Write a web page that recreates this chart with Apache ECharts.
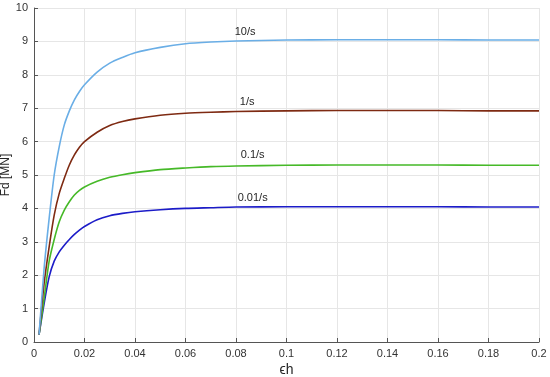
<!DOCTYPE html>
<html>
<head>
<meta charset="utf-8">
<script src="https://cdn.jsdelivr.net/npm/echarts@6/dist/echarts.min.js"></script>
<style>html,body{margin:0;padding:0;background:#fff;}#c{width:550px;height:377px;}</style>
</head>
<body>
<div id="c"></div>
<script>
var strain = [0.002, 0.004, 0.006, 0.008, 0.010, 0.012, 0.014, 0.016, 0.018, 0.020, 0.025, 0.030, 0.035, 0.040, 0.050, 0.060, 0.070, 0.080, 0.100, 0.120, 0.140, 0.160, 0.180, 0.200];
var force_001 = [0.22, 1.15, 1.95, 2.42, 2.70, 2.90, 3.07, 3.22, 3.35, 3.46, 3.66, 3.78, 3.85, 3.90, 3.96, 4.00, 4.02, 4.04, 4.05, 4.05, 4.05, 4.05, 4.04, 4.04];
var force_01  = [0.22, 1.30, 2.42, 3.07, 3.60, 3.95, 4.20, 4.40, 4.54, 4.64, 4.81, 4.93, 5.01, 5.07, 5.16, 5.21, 5.25, 5.27, 5.29, 5.30, 5.30, 5.30, 5.29, 5.29];
var force_1   = [0.22, 1.75, 2.85, 3.80, 4.45, 4.90, 5.30, 5.60, 5.83, 6.00, 6.28, 6.48, 6.60, 6.68, 6.79, 6.85, 6.88, 6.90, 6.92, 6.93, 6.93, 6.93, 6.92, 6.92];
var force_10  = [0.22, 2.20, 3.70, 5.00, 5.85, 6.50, 6.92, 7.25, 7.50, 7.70, 8.08, 8.35, 8.52, 8.66, 8.82, 8.93, 8.98, 9.01, 9.04, 9.05, 9.05, 9.05, 9.04, 9.04];
var seriesNames = ['0.01/s', '0.1/s', '1/s', '10/s'];
var seriesColors = ['#1c1cc8', '#46b928', '#7e2a12', '#6aaee6'];
var labelAt = [[0.0866, 4.30], [0.0866, 5.60], [0.0844, 7.18], [0.0836, 9.27]];
var allForces = [force_001, force_01, force_1, force_10];

var chart = echarts.init(document.getElementById('c'));
var font = 'Liberation Sans, Arial, sans-serif';
var series = allForces.map(function (f, i) {
  return {
    name: seriesNames[i],
    type: 'line',
    smooth: 0.25,
    symbol: 'none',
    lineStyle: { color: seriesColors[i], width: 1.6 },
    data: strain.map(function (x, j) { return [x, f[j]]; }),
    markPoint: {
      symbol: 'circle', symbolSize: 0,
      label: { show: true, formatter: seriesNames[i], color: '#262626', fontSize: 11, fontFamily: font, position: 'inside' },
      data: [{ coord: labelAt[i] }]
    },
    z: 3 + i
  };
});

chart.setOption({
  animation: false,
  backgroundColor: '#ffffff',
  grid: { left: 34, right: 11, top: 8, bottom: 35, containLabel: false, outerBoundsMode: 'none' },
  xAxis: {
    type: 'value', min: 0, max: 0.2, interval: 0.02,
    name: 'ϵh', nameLocation: 'middle', nameGap: 21, nameMoveOverlap: false,
    nameTextStyle: { color: '#262626', fontSize: 14, fontFamily: font },
    axisLine: { show: true, onZero: false, lineStyle: { color: '#555', width: 1 } },
    axisTick: { show: true, inside: true, length: 4, lineStyle: { color: '#555' } },
    axisLabel: { color: '#333', fontSize: 11, fontFamily: font, margin: 6,
      formatter: function (v) { return +v.toFixed(2) + ''; } },
    splitLine: { show: true, lineStyle: { color: '#e6e6e6', width: 1 } }
  },
  yAxis: {
    type: 'value', min: 0, max: 10, interval: 1,
    name: 'Fd [MN]', nameLocation: 'middle', nameGap: 22, nameRotate: 90, nameMoveOverlap: false,
    nameTextStyle: { color: '#262626', fontSize: 12, fontFamily: font },
    axisLine: { show: true, onZero: false, lineStyle: { color: '#555', width: 1 } },
    axisTick: { show: true, inside: true, length: 4, lineStyle: { color: '#555' } },
    axisLabel: { color: '#333', fontSize: 11, fontFamily: font, margin: 6 },
    splitLine: { show: true, lineStyle: { color: '#e6e6e6', width: 1 } }
  },
  series: series
});
</script>
</body>
</html>
